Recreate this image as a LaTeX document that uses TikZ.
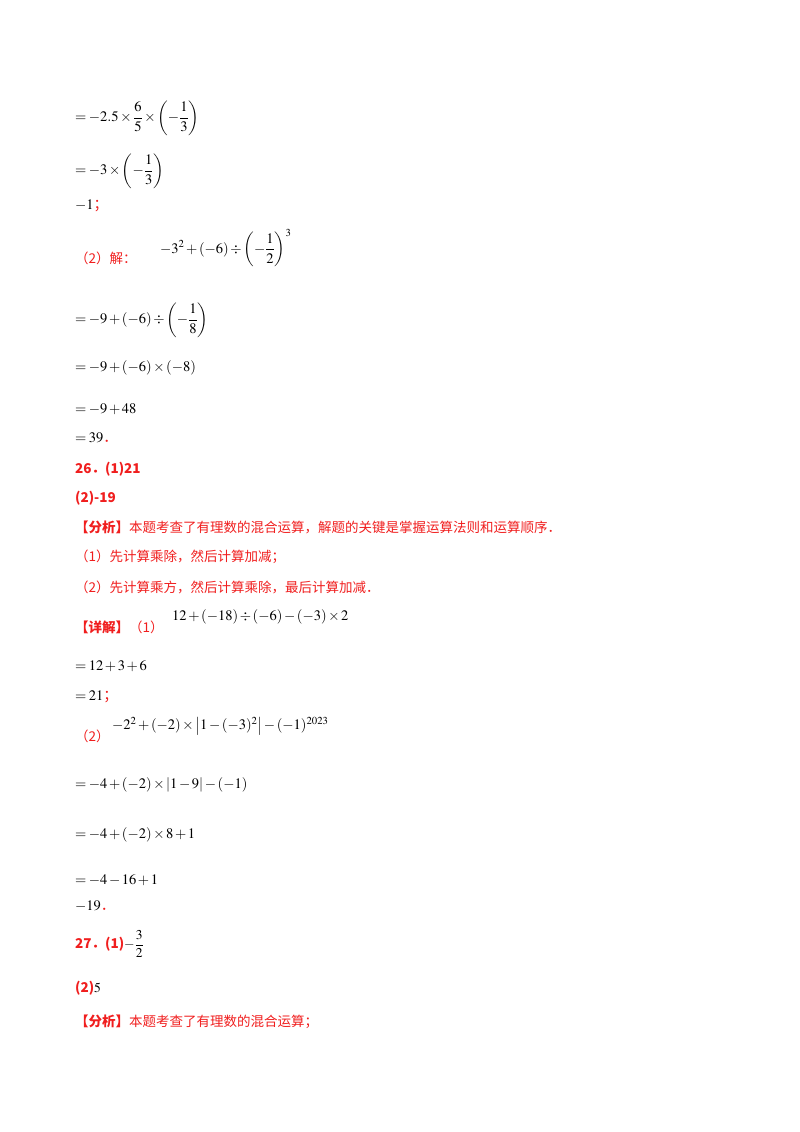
\documentclass[tikz,border=0pt]{standalone}
\usepackage{amsmath}
\usepackage{mathptmx}
\usepackage{fontspec}
\setmainfont{Liberation Serif}
\newfontfamily\cjk{Noto Sans CJK SC}
\definecolor{rd}{RGB}{240,30,30}
\medmuskip=2mu plus 1mu \thickmuskip=3mu
\begin{document}
\begin{tikzpicture}[x=1pt,y=-1pt,
  t/.style={anchor=west,inner sep=0pt,font=\fontsize{14.5}{16}\selectfont},
  r/.style={t,text=rd,font=\fontsize{13.5}{16}\selectfont\cjk},
  b/.style={t,text=rd,font=\fontsize{13.5}{16}\selectfont\bfseries\cjk}]
\useasboundingbox (0,0) rectangle (800,1132);
\node[t] (l1) at (75,118) {$=-2.5\times\dfrac{6}{5}\times\left(-\dfrac{1}{3}\right)$};
\node[t] (l2) at (75,171) {$=-3\times\left(-\dfrac{1}{3}\right)$};
\node[t] (l3) at (75,206) {$-1$\textcolor{rd}{\cjk ；}};
\node[r] (l4) at (75,258) {（2）解：};
\node[t] (l4m) at (160,248) {$-3^2+(-6)\div\left(-\dfrac{1}{2}\right)^{3}$};
\node[t] (l5) at (75,320) {$=-9+(-6)\div\left(-\dfrac{1}{8}\right)$};
\node[t] (l6) at (75,368) {$=-9+(-6)\times(-8)$};
\node[t] (l7) at (75,409) {$=-9+48$};
\node[t] (l8) at (75,438) {$=39$\textcolor{rd}{\cjk ．}};
\node[b] (h26) at (75,469) {26．(1)21};
\node[b] (h26b) at (75,498) {(2)-19};
\node[r] (a1) at (75,527) {\bfseries【分析】\mdseries 本题考查了有理数的混合运算，解题的关键是掌握运算法则和运算顺序．};
\node[r] (a2) at (75,557) {（1）先计算乘除，然后计算加减；};
\node[r] (a3) at (75,587) {（2）先计算乘方，然后计算乘除，最后计算加减．};
\node[r] (d1) at (75,627) {\bfseries【详解】\mdseries（1）};
\node[t] (d1m) at (172,617) {$12+(-18)\div(-6)-(-3)\times2$};
\node[t] (d2) at (75,666) {$=12+3+6$};
\node[t] (d3) at (75,697) {$=21$\textcolor{rd}{\cjk ；}};
\node[r] (d4) at (75,736) {（2）};
\node[t] (d4m) at (112,726) {$-2^2+(-2)\times\left|1-(-3)^2\right|-(-1)^{2023}$};
\node[t] (d5) at (75,785) {$=-4+(-2)\times|1-9|-(-1)$};
\node[t] (d6) at (75,835) {$=-4+(-2)\times8+1$};
\node[t] (d7) at (75,880) {$=-4-16+1$};
\node[t] (d8) at (75,906) {$-19$\textcolor{rd}{\cjk ．}};
\node[b] (h27) at (75,944) {27．(1)\textcolor{black}{$-\dfrac{3}{2}$}};
\node[b] (h27b) at (75,988) {(2)\textcolor{black}{$5$}};
\node[r] (a4) at (75,1022) {\bfseries【分析】\mdseries 本题考查了有理数的混合运算；};
\end{tikzpicture}
\end{document}
